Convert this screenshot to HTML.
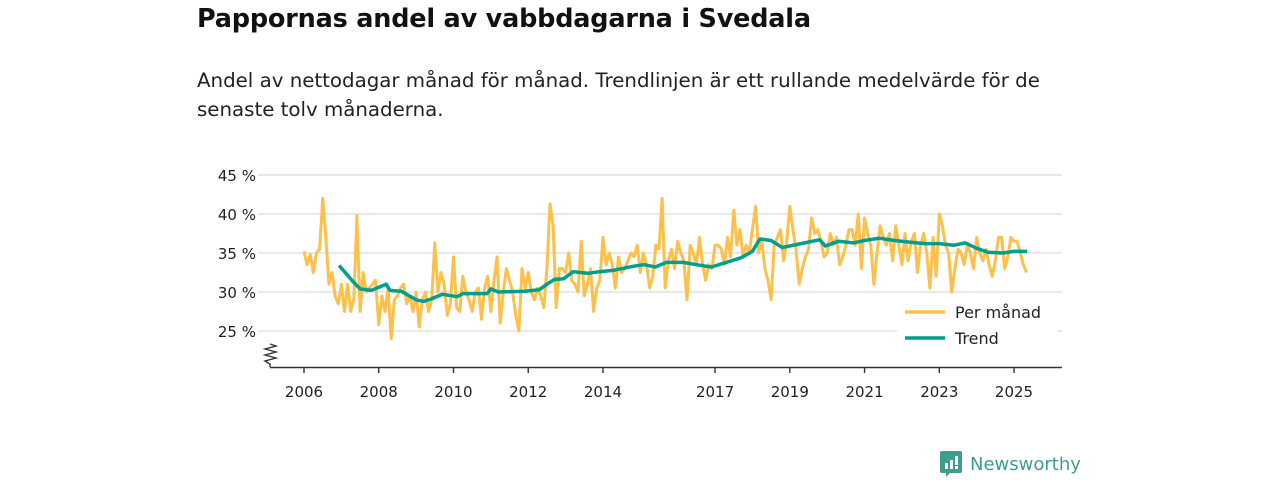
<!DOCTYPE html>
<html><head><meta charset="utf-8">
<style>
body{margin:0;width:1280px;height:480px;background:#fff;font-family:"Liberation Sans","DejaVu Sans",sans-serif;color:#111;position:relative;overflow:hidden}
h1{position:absolute;left:197px;top:4px;margin:0;font-size:25.5px;font-weight:bold;font-family:"DejaVu Sans","Liberation Sans",sans-serif;letter-spacing:-0.2px}
.sub{position:absolute;left:197px;top:66px;margin:0;font-size:19.8px;line-height:29px;width:880px;font-family:"DejaVu Sans","Liberation Sans",sans-serif;color:#222}
svg{position:absolute;left:0;top:0}
</style></head><body>
<h1>Pappornas andel av vabbdagarna i Svedala</h1>
<p class="sub">Andel av nettodagar månad för månad. Trendlinjen är ett rullande medelvärde för de senaste tolv månaderna.</p>
<svg id="chart" width="1280" height="480" font-family="DejaVu Sans, Liberation Sans, sans-serif"></svg>
<div style="position:absolute;left:940px;top:451px;height:26px;display:flex;align-items:center">
<svg width="22" height="26" style="position:static"><path d="M0 2 Q0 0 2 0 H20 Q22 0 22 2 V20 Q22 22 20 22 H10 L6 26 V22 H2 Q0 22 0 20Z" fill="#3d9e8e"/><rect x="5" y="12" width="3" height="6" fill="#fff"/><rect x="10" y="9" width="3" height="9" fill="#fff"/><rect x="15" y="5" width="3" height="9" fill="#fff"/><rect x="15" y="15" width="3" height="3" fill="#fff"/></svg>
<span style="margin-left:8px;font-size:18px;color:#3d9e8e;font-family:'DejaVu Sans',sans-serif">Newsworthy</span></div>
<script>
const startYear = 2006;
const monthly = [
35.2,33.5,34.8,32.5,35,35.5,42,37,31,32.5,29.5,28.5,
31,27.5,31,27.5,29,39.8,27.5,32.5,30,30.5,31,31.5,
25.8,29.5,27.5,30.5,24,29,29.5,30.5,31,28.5,29.5,27.5,
30,25.5,29,30,27.5,29,36.3,30,32.5,31,27,28.5,
34.5,28,27.5,32,30,29,27.5,30,30.5,26.5,30.5,32,
27.5,31.5,34.5,26,30,33,31.5,30,27,25,33,30.5,
32.5,30,29,30.5,29.5,28,33,41.3,38.5,28,33,33,
32.5,35,31.5,31,30,36.5,29.5,31,33,27.5,30.5,31.5,
37,33.5,35,33.5,30.5,34.5,32.5,33,34,35,34.5,36,
32.5,35,33.5,30.5,32,36,35.5,42,30.5,34,35.5,33,
36.5,35,34,29,36,35,33.5,37,33.5,31.5,33.5,33,
36,36,35.5,33.5,37,34.5,40.5,36,38,34.5,36,35,
38,41,35,36.5,33,31.5,29,36,37,38,34,36.5,
41,38,35.5,31,33,34.5,35.5,39.5,37.5,38,36.5,34.5,
35,37.5,36,37,33.5,34.5,36,38,38,36,40,33,
39.5,37.5,36,31,35,38.5,37,36,37.5,34,38.5,36,
33.5,37.5,34,36.5,37.5,32.5,36,37.5,35,30.5,37,32,
40,38.5,36,35,30,33,35.5,35,33.5,36,35,33,
37,35,34,35.5,33.5,32,34,37,37,33,34.5,37,
36.5,36.5,35,33.5,32.5];
const trendYears = [2006.94,2007.3,2007.5,2007.8,2008.2,2008.3,2008.6,2009.0,2009.2,2009.4,2009.7,2010.1,2010.25,2010.9,2011.0,2011.2,2011.9,2012.3,2012.5,2012.7,2012.95,2013.2,2013.6,2013.9,2014.3,2014.8,2015.1,2015.4,2015.7,2016.15,2016.5,2016.9,2017.3,2017.7,2018.0,2018.2,2018.5,2018.8,2019.3,2019.8,2019.95,2020.3,2020.7,2021.0,2021.4,2021.8,2022.2,2022.6,2023.0,2023.4,2023.7,2024.0,2024.3,2024.7,2025.0,2025.35];
const trendValues = [33.4,31.4,30.4,30.2,31.0,30.2,30.1,29.0,28.8,29.1,29.7,29.4,29.8,29.8,30.4,30.0,30.1,30.3,31.0,31.6,31.7,32.6,32.4,32.6,32.8,33.3,33.5,33.2,33.8,33.8,33.5,33.2,33.8,34.4,35.2,36.8,36.6,35.7,36.2,36.7,35.9,36.5,36.3,36.6,36.9,36.6,36.4,36.2,36.2,36.0,36.3,35.6,35.1,35.0,35.2,35.2];
const yTicks = [25,30,35,40,45];
const xTicks = [2006,2008,2010,2012,2014,2017,2019,2021,2023,2025];

const NS='http://www.w3.org/2000/svg';
const svg=document.getElementById('chart');
const X=y=>304+(y-2006)*37.37;
const Y=v=>175+(45-v)*7.8;
function mk(t,a,p){const e=document.createElementNS(NS,t);for(const k in a)e.setAttribute(k,a[k]);(p||svg).appendChild(e);return e;}

yTicks.forEach(v=>{
  const g=mk('line',{x1:258,x2:1062,y1:Y(v),y2:Y(v),stroke:'#dcdcdc','stroke-width':1.3});
  
  
  const t=mk('text',{x:256,y:Y(v)+6,'text-anchor':'end','font-size':15,fill:'#222'});
  t.textContent=v+' %';
  
  
});
const ax=mk('line',{x1:270,x2:1062,y1:367.5,y2:367.5,stroke:'#333','stroke-width':1.5});


const br=mk('polyline',{points:'270,367 270,364 265,361 276,358 265,355 276,352 265,349 276,346 270,344',fill:'none',stroke:'#333','stroke-width':1.4});


xTicks.forEach(yr=>{
  const l=mk('line',{x1:X(yr),x2:X(yr),y1:367,y2:373,stroke:'#333','stroke-width':1.4});
  
  
  const t=mk('text',{x:X(yr),y:397,'text-anchor':'middle','font-size':15,fill:'#222'});
  t.textContent=yr;
  
  
});
const mp=monthly.map((v,i)=>X(startYear+i/12).toFixed(1)+','+Y(v).toFixed(1)).join(' ');
const ml=mk('polyline',{points:mp,fill:'none',stroke:'#fec04a','stroke-width':3,'stroke-linejoin':'round'});


const tp=trendYears.map((yr,i)=>X(yr).toFixed(1)+','+Y(trendValues[i]).toFixed(1)).join(' ');
const tl=mk('polyline',{points:tp,fill:'none',stroke:'#009e8c','stroke-width':3.5,'stroke-linejoin':'round'});


const lg=mk('rect',{x:897,y:297,width:160,height:56,fill:'#fff'});


[['Per månad','#fec04a',312],['Trend','#009e8c',338]].forEach(([n,c,y])=>{
  const l=mk('line',{x1:905,x2:945,y1:y,y2:y,stroke:c,'stroke-width':3.5});
  
  
  const t=mk('text',{x:955,y:y+6,'font-size':16,fill:'#222'});
  t.textContent=n;
  
  
});
</script>
</body></html>
